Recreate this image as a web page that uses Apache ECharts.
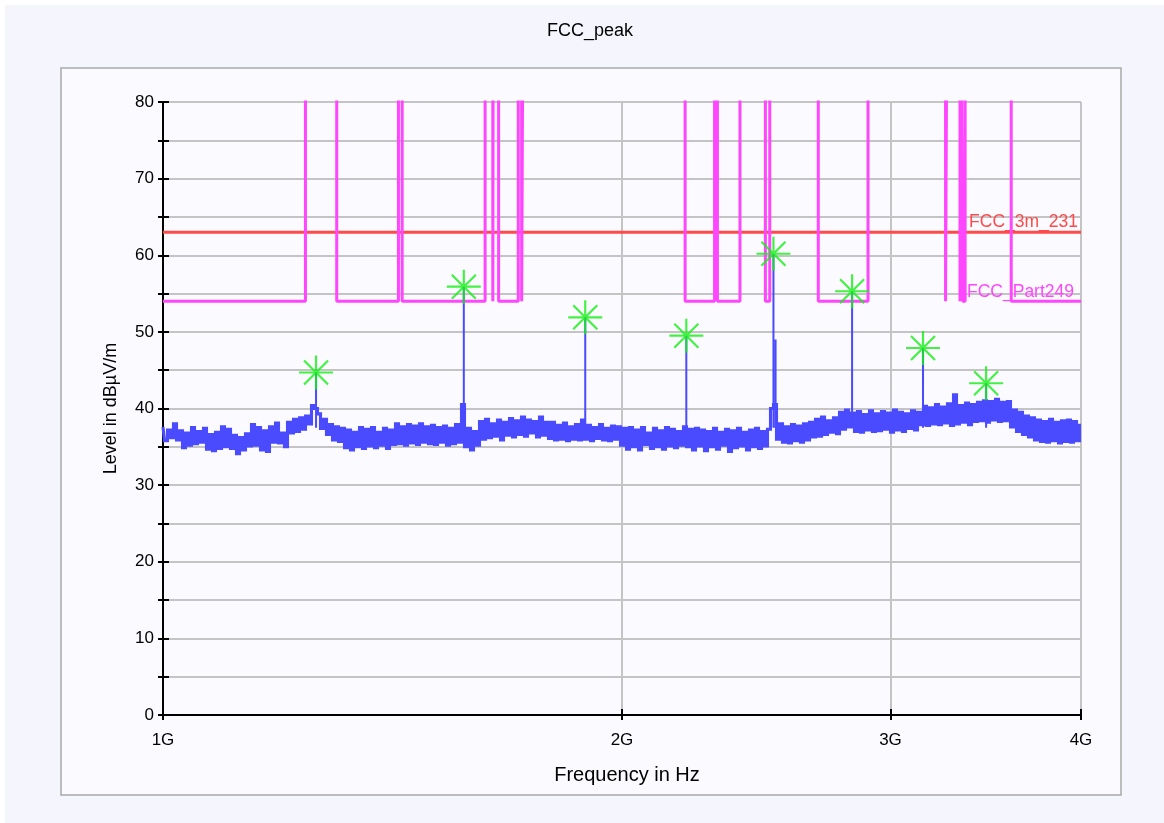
<!DOCTYPE html>
<html>
<head>
<meta charset="utf-8">
<script src="https://cdn.jsdelivr.net/npm/echarts@6/dist/echarts.min.js"></script>
<style>
  html, body { margin: 0; padding: 0; background: #ffffff; }
  #chart { width: 1164px; height: 823px; }
</style>
</head>
<body>
<div id="chart"></div>
<script>
// ---------------- data ----------------
const chartTitle = 'FCC_peak';
const xAxisName = 'Frequency in Hz';
const yAxisName = 'Level in dB\u00B5V/m';

// measurement sweep (log-spaced points between start and stop)
const sweepStartHz = 1e9;
const sweepStopHz = 4e9;
// peak detector levels (dBµV/m)
const traceLevels = [
  37.6, 35.8, 37.2, 36.2, 38.0, 35.9, 37.1, 34.9, 36.8, 35.2,
  37.5, 35.4, 37.0, 35.6, 37.4, 34.7, 36.6, 34.5, 36.9, 34.8,
  37.6, 35.0, 37.3, 34.8, 36.5, 34.1, 36.2, 34.6, 36.7, 35.1,
  37.9, 35.2, 37.5, 34.6, 37.1, 34.4, 37.6, 35.6, 38.1, 35.5,
  36.8, 35.0, 38.2, 36.8, 38.6, 37.0, 38.8, 37.3, 39.0, 38.0,
  40.4, 40.0, 39.3, 37.4, 38.6, 36.6, 37.9, 35.9, 37.6, 35.7,
  37.4, 34.9, 37.2, 34.6, 36.9, 35.0, 37.5, 34.8, 37.3, 35.1,
  37.5, 34.9, 36.9, 35.2, 37.4, 34.8, 37.2, 35.3, 38.0, 35.4,
  37.6, 35.2, 37.9, 35.5, 37.7, 35.3, 38.0, 35.6, 37.6, 35.4,
  37.8, 35.3, 37.5, 35.6, 37.7, 35.2, 37.4, 35.4, 37.9, 35.6,
  40.5, 35.0, 37.4, 34.6, 37.0, 35.2, 38.3, 36.0, 38.6, 36.2,
  38.0, 36.4, 38.5, 35.9, 38.2, 36.5, 38.7, 36.3, 38.4, 36.6,
  38.9, 36.4, 38.5, 36.8, 38.3, 36.3, 38.9, 36.5, 38.2, 36.1,
  38.2, 35.9, 37.8, 36.0, 38.1, 35.8, 37.6, 36.0, 37.9, 35.9,
  38.5, 36.0, 37.8, 35.8, 37.5, 36.1, 37.9, 35.9, 37.4, 35.8,
  37.7, 36.0, 37.6, 35.2, 37.4, 34.7, 37.5, 35.0, 37.2, 34.6,
  37.5, 35.3, 36.8, 34.8, 37.4, 35.0, 37.1, 34.7, 37.5, 35.1,
  37.3, 34.9, 37.0, 35.2, 37.6, 35.0, 37.3, 34.6, 37.4, 35.1,
  37.2, 34.5, 37.0, 35.0, 37.4, 34.7, 36.9, 35.2, 37.3, 34.4,
  37.1, 34.9, 37.4, 35.1, 36.9, 34.6, 37.2, 35.0, 37.4, 34.8,
  37.0, 35.1, 37.3, 40.0, 40.5, 36.0, 38.0, 35.6, 37.6, 35.5,
  37.9, 35.8, 37.7, 35.6, 38.0, 35.9, 38.2, 36.3, 38.6, 36.4,
  38.9, 36.6, 38.4, 36.9, 38.8, 36.7, 39.5, 37.3, 39.8, 37.6,
  39.4, 37.0, 39.6, 36.9, 39.2, 37.2, 39.7, 37.0, 39.3, 37.1,
  39.6, 37.3, 39.4, 36.9, 39.8, 37.2, 39.5, 37.0, 39.3, 37.4,
  39.7, 37.2, 39.5, 37.9, 40.3, 37.8, 40.1, 38.0, 40.5, 37.9,
  40.2, 38.1, 40.6, 37.8, 41.8, 38.0, 40.4, 38.2, 40.7, 37.9,
  40.5, 38.3, 40.8, 38.4, 41.0, 38.2, 40.9, 38.5, 41.2, 38.3,
  40.8, 38.4, 40.9, 37.6, 39.8, 37.0, 39.5, 36.6, 39.0, 36.3,
  38.8, 35.9, 38.5, 35.7, 38.3, 35.6, 38.6, 35.8, 38.2, 35.5,
  38.4, 35.7, 38.5, 35.6, 38.3, 35.8, 37.8
];

// marked peaks (green stars), also narrow spikes on the trace
const peakFreqsHz = [1.260e9, 1.575e9, 1.892e9, 2.204e9, 2.514e9, 2.831e9, 3.151e9, 3.466e9];
const peakLevels  = [44.7, 55.9, 51.9, 49.5, 60.2, 55.3, 47.9, 43.3];
// additional unmarked spike on the trace
const extraSpikeFreqsHz = [2.522e9];
const extraSpikeLevels  = [49.0];
// level at the foot of each spike
const spikeFootLevel = 37.5;

// limit line FCC_3m_231
const limit231Name = 'FCC_3m_231';
const limit231FreqsHz = [1e9, 4e9];
const limit231Levels  = [63, 63];

// limit line FCC_Part249: band start frequencies (MHz) and level of each band
const part249Name = 'FCC_Part249';
const part249BandStartMHz = [1000, 1240, 1300, 1427, 1435, 1626.5, 1645.5, 1646.5, 1660, 1710, 1718.8, 1722.2,
  2200, 2300, 2310, 2390, 2483.5, 2500, 2690, 2900, 3260, 3267, 3332, 3339, 3345.8, 3358, 3600, 4000];
const part249Levels = [54, 94, 54, 94, 54, 94, 54, 94, 54, 94, 54, 94,
  54, 94, 54, 94, 54, 94, 54, 94, 54, 94, 54, 94, 54, 94, 54, 54];

// axis ticks
const xTickFreqsHz = [1e9, 2e9, 3e9, 4e9];
const xTickLabels  = ['1G', '2G', '3G', '4G'];
const yMin = 0, yMax = 80, yTickStep = 5, yLabelStep = 10;

// ---------------- build ----------------
const FONT = 'Liberation Sans, Arial, sans-serif';
const lg = f => Math.log10(f / sweepStartHz);   // log frequency scale
const xMin = lg(sweepStartHz), xMax = lg(sweepStopHz);
const xTickValues = xTickFreqsHz.map(lg);

const n = traceLevels.length;
const tracePts = traceLevels.map((v, i) => {
  const f = sweepStartHz * Math.pow(sweepStopHz / sweepStartHz, i / (n - 1));
  return [lg(f), v];
});

// spikes drawn as thin vertical strokes of the trace
const spikePts = [];
const allSpikeF = peakFreqsHz.concat(extraSpikeFreqsHz);
const allSpikeL = peakLevels.concat(extraSpikeLevels);
allSpikeF.forEach((f, i) => {
  spikePts.push([lg(f), spikeFootLevel], [lg(f), allSpikeL[i]], [lg(f), '-']);
});

const peakPts = peakFreqsHz.map((f, i) => [lg(f), peakLevels[i]]);
const limit231Pts = limit231FreqsHz.map((f, i) => [lg(f), limit231Levels[i]]);
const part249Pts = part249BandStartMHz.map((m, i) => [lg(m * 1e6), part249Levels[i]]);

const asterisk = 'path://M0 46.8H100V53.2H0Z M46.8 0H53.2V100H46.8Z ' +
  'M12.4 16.9L16.9 12.4L87.6 83.1L83.1 87.6Z M83.1 12.4L87.6 16.9L16.9 87.6L12.4 83.1Z';

const xLabelFmt = v => {
  const k = xTickValues.findIndex(t => Math.abs(t - v) < 1e-9);
  return k >= 0 ? xTickLabels[k] : '';
};

const TRACE_COLOR = '#4a4aff';
const chart = echarts.init(document.getElementById('chart'), null, { renderer: 'canvas' });
chart.setOption({
  animation: false,
  backgroundColor: '#ffffff',
  textStyle: { fontFamily: FONT },
  graphic: [
    { type: 'rect', z: -10, silent: true, shape: { x: 5, y: 5, width: 1159, height: 818 },
      style: { fill: '#f4f5fd' } },
    { type: 'rect', z: -9, silent: true, shape: { x: 61, y: 68, width: 1060, height: 727 },
      style: { fill: '#fbfbff', stroke: '#a9a9a9', lineWidth: 1.5 } }
  ],
  title: {
    text: chartTitle, left: 585, textAlign: 'center', top: 17,
    textStyle: { fontFamily: FONT, fontSize: 18, fontWeight: 'normal', color: '#000' }
  },
  grid: { left: 163, right: 83, top: 102, bottom: 108, containLabel: false },
  xAxis: [{
    type: 'value', min: xMin, max: xMax,
    name: xAxisName, nameLocation: 'middle', nameGap: 50,
    nameTextStyle: { fontFamily: FONT, fontSize: 20, color: '#000', padding: [0, 0, 0, 10] },
    axisLine: { show: true, onZero: false, lineStyle: { color: '#000', width: 2 } },
    axisTick: { show: true, customValues: xTickValues, length: 5, lineStyle: { color: '#000', width: 2 } },
    axisLabel: { customValues: xTickValues, formatter: xLabelFmt, margin: 17, fontFamily: FONT, fontSize: 17, color: '#000' },
    splitLine: { show: true, lineStyle: { color: '#c4c4c4', width: 2 } }
  }, {
    type: 'value', min: xMin, max: xMax, position: 'bottom',
    axisLine: { show: false },
    axisTick: { show: true, inside: true, customValues: xTickValues, length: 6, lineStyle: { color: '#000', width: 2 } },
    axisLabel: { show: false },
    splitLine: { show: false }
  }],
  yAxis: [{
    type: 'value', min: yMin, max: yMax, interval: yTickStep,
    name: yAxisName, nameLocation: 'middle', nameGap: 43,
    nameTextStyle: { fontFamily: FONT, fontSize: 18, color: '#000' },
    axisLine: { show: true, onZero: false, lineStyle: { color: '#000', width: 2 } },
    axisTick: { show: true, length: 5, lineStyle: { color: '#000', width: 2 } },
    axisLabel: { formatter: v => (v % yLabelStep === 0 ? String(v) : ''), margin: 9, fontFamily: FONT, fontSize: 17, color: '#000' },
    splitLine: { show: true, lineStyle: { color: '#c4c4c4', width: 2 } }
  }, {
    type: 'value', min: yMin, max: yMax, interval: yTickStep, position: 'left',
    axisLine: { show: false },
    axisTick: { show: true, inside: true, length: 6, lineStyle: { color: '#000', width: 2 } },
    axisLabel: { show: false },
    splitLine: { show: false }
  }],
  series: [
    {
      name: limit231Name, type: 'line', data: limit231Pts, showSymbol: false, z: 3,
      lineStyle: { color: '#ff4a4a', width: 3 }, itemStyle: { color: '#ff4a4a' },
      endLabel: { show: true, formatter: limit231Name, color: '#ff4a4a', fontFamily: FONT, fontSize: 17.5,
        align: 'right', verticalAlign: 'bottom', distance: 0, padding: [0, 3, 1, 0] }
    },
    {
      name: part249Name, type: 'line', step: 'end', data: part249Pts, showSymbol: false, z: 4,
      lineStyle: { color: '#ff46ff', width: 3 }, itemStyle: { color: '#ff46ff' },
      endLabel: { show: true, formatter: part249Name, color: '#ff46ff', fontFamily: FONT, fontSize: 17.5,
        align: 'right', verticalAlign: 'bottom', distance: 0, padding: [0, 7, 0, 0] }
    },
    {
      name: 'trace', type: 'line', step: 'middle', data: tracePts, showSymbol: false, sampling: null, z: 5,
      lineStyle: { color: TRACE_COLOR, width: 3.1, join: 'miter' }, itemStyle: { color: TRACE_COLOR }
    },
    {
      name: 'spikes', type: 'line', data: spikePts, showSymbol: false, connectNulls: false, z: 5,
      lineStyle: { color: TRACE_COLOR, width: 2 }, itemStyle: { color: TRACE_COLOR }
    },
    {
      name: 'peaks', type: 'scatter', data: peakPts, symbol: asterisk, symbolSize: 34, z: 6,
      itemStyle: { color: '#14f014' }
    }
  ]
});
</script>
</body>
</html>
